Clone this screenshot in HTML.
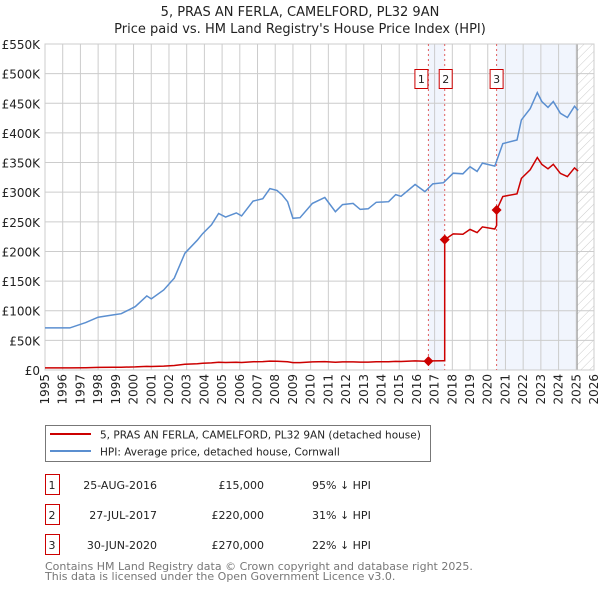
<!DOCTYPE html>
<html><head><meta charset="utf-8"><style>
body{margin:0;background:#fff;font-family:"DejaVu Sans","Liberation Sans",sans-serif}
svg{display:block}
</style></head><body>
<svg id="c" width="600" height="590" xmlns="http://www.w3.org/2000/svg" font-family="DejaVu Sans, Liberation Sans, sans-serif">
<defs><pattern id="hatch" width="6" height="6" patternUnits="userSpaceOnUse" patternTransform="rotate(45)"><line x1="0" y1="0" x2="0" y2="6" stroke="#ccc" stroke-width="1"/></pattern></defs>
<text x="300" y="16" text-anchor="middle" font-size="13" fill="#222">5, PRAS AN FERLA, CAMELFORD, PL32 9AN</text>
<text x="300" y="33" text-anchor="middle" font-size="13" fill="#222">Price paid vs. HM Land Registry's House Price Index (HPI)</text>
<g id="plot"></g>
<g>
<rect x="45.5" y="425.5" width="385" height="36" fill="#fff" stroke="#777"/>
<line x1="50" y1="434" x2="91" y2="434" stroke="#cc0000" stroke-width="2"/>
<text x="100" y="438.5" font-size="10.5" fill="#222">5, PRAS AN FERLA, CAMELFORD, PL32 9AN (detached house)</text>
<line x1="50" y1="451" x2="91" y2="451" stroke="#5b8fd0" stroke-width="2"/>
<text x="100" y="455.5" font-size="10.5" fill="#222">HPI: Average price, detached house, Cornwall</text>
</g>
<g id="tbl" font-size="11" fill="#222"></g>
<text x="45" y="570" font-size="11" fill="#777">Contains HM Land Registry data © Crown copyright and database right 2025.</text>
<text x="45" y="580" font-size="11" fill="#777">This data is licensed under the Open Government Licence v3.0.</text>
</svg>
<script>
const hpiYears=[1995,1996.4,1997.3,1998,1998.85,1999.3,2000.1,2000.75,2001,2001.7,2002.3,2002.9,2003.6,2003.9,2004.4,2004.8,2005.2,2005.8,2006.1,2006.75,2007.3,2007.7,2008.1,2008.4,2008.7,2009,2009.4,2010.1,2010.8,2011.4,2011.8,2012.4,2012.8,2013.25,2013.7,2014.4,2014.8,2015.1,2015.9,2016.45,2016.9,2017.5,2018.05,2018.6,2019,2019.4,2019.7,2020.4,2020.85,2021.65,2021.9,2022.4,2022.8,2023.05,2023.4,2023.7,2024.1,2024.5,2024.9,2025.1];
const hpiValues=[71,71,80,89,93,95,107,125,120,135,155,197,219,230,245,264,258,265,260,285,289,306,303,295,284,256,257,281,291,267,279,281,271,272,283,284,296,293,313,301,314,316,332,331,343,335,349,344,382,388,422,441,468,453,443,453,433,426,445,438];
const saleYears=[2016.65,2017.57,2020.5];
const salePrices=[15000,220000,270000];
const saleLabels=["1","2","3"];
const saleDates=["25-AUG-2016","27-JUL-2017","30-JUN-2020"];
const salePriceText=["£15,000","£220,000","£270,000"];
const saleDiffs=["95% ↓ HPI","31% ↓ HPI","22% ↓ HPI"];
const yTicks=[0,50,100,150,200,250,300,350,400,450,500,550];
const yTickLabels=["£0","£50K","£100K","£150K","£200K","£250K","£300K","£350K","£400K","£450K","£500K","£550K"];
const xTicks=[1995,1996,1997,1998,1999,2000,2001,2002,2003,2004,2005,2006,2007,2008,2009,2010,2011,2012,2013,2014,2015,2016,2017,2018,2019,2020,2021,2022,2023,2024,2025,2026];

const X0=45,X1=594,Y0=370,Y1=44;
const sx=y=>X0+(y-1995)/(2026-1995)*(X1-X0);
const sy=v=>Y0-v/550*(Y0-Y1);
const NS="http://www.w3.org/2000/svg";
const g=document.getElementById('plot');
function mk(t,a,p){const e=document.createElementNS(NS,t);for(const k in a)e.setAttribute(k,a[k]);(p||g).appendChild(e);return e;}
function hpiAt(y){for(let i=0;i<hpiYears.length-1;i++){if(y<=hpiYears[i+1]){const f=(y-hpiYears[i])/(hpiYears[i+1]-hpiYears[i]);return hpiValues[i]+f*(hpiValues[i+1]-hpiValues[i]);}}return hpiValues[hpiValues.length-1];}
let s1=mk('rect',{x:sx(saleYears[0]),y:Y1,width:sx(saleYears[1])-sx(saleYears[0]),height:Y0-Y1,fill:'#eef3fc',opacity:0.8});


let s2=mk('rect',{x:sx(saleYears[2]),y:Y1,width:sx(2025.05)-sx(saleYears[2]),height:Y0-Y1,fill:'#eef3fc',opacity:0.8});


let h=mk('rect',{x:sx(2025.05),y:Y1,width:X1-sx(2025.05),height:Y0-Y1,fill:'url(#hatch)'});


yTicks.forEach((v,i)=>{
  let l=mk('line',{x1:X0,x2:X1,y1:sy(v),y2:sy(v),stroke:'#ccc','stroke-width':1});
  
  
  let t=mk('text',{x:40,y:sy(v)+5,'text-anchor':'end','font-size':12,fill:'#222'});
  t.textContent=yTickLabels[i];
  
  
});
xTicks.forEach(y=>{
  let l=mk('line',{x1:sx(y),x2:sx(y),y1:Y1,y2:Y0,stroke:'#ccc','stroke-width':1});
  
  
  let t=mk('text',{x:0,y:0,'text-anchor':'end','font-size':12,fill:'#222',transform:`translate(${sx(y)+4},374) rotate(-90)`});
  t.textContent=y;
  
  
});
let vl=mk('line',{x1:sx(2025.05),x2:sx(2025.05),y1:Y1,y2:Y0,stroke:'#999','stroke-width':1});


let fr=mk('rect',{x:X0,y:Y1,width:X1-X0,height:Y0-Y1,fill:'none',stroke:'#ccc'});


saleYears.forEach((y,i)=>{
  let l=mk('line',{x1:sx(y),x2:sx(y),y1:Y1,y2:Y0,stroke:'#e06060','stroke-width':1,'stroke-dasharray':'2,3'});
  
  
  const bx=i===0?sx(y)-14:(i===1?sx(y)-6:sx(y)-7);
  let r=mk('rect',{x:bx+0.5,y:69.5,width:13,height:19,fill:'#fff',stroke:'#cc0000'});
  
  
  let t=mk('text',{x:bx+7,y:83,'text-anchor':'middle','font-size':11,fill:'#222'});
  t.textContent=saleLabels[i];
  
  
});
let hp=hpiYears.map((y,i)=>`${sx(y).toFixed(1)},${sy(hpiValues[i]).toFixed(1)}`).join(' ');
let hl=mk('polyline',{points:hp,fill:'none',stroke:'#5b8fd0','stroke-width':1.5});


const pts=[];
function seg(a,b,fac){pts.push([a,hpiAt(a)*fac]);hpiYears.forEach((y,i)=>{if(y>a&&y<b)pts.push([y,hpiValues[i]*fac]);});pts.push([b,hpiAt(b)*fac]);}
const f=saleYears.map((y,i)=>salePrices[i]/1000/hpiAt(y));
seg(1995,saleYears[1],f[0]);
seg(saleYears[1],saleYears[2],f[1]);
seg(saleYears[2],2025.1,f[2]);
let rl=mk('polyline',{points:pts.map(p=>`${sx(p[0]).toFixed(1)},${sy(p[1]).toFixed(1)}`).join(' '),fill:'none',stroke:'#cc0000','stroke-width':1.5});


saleYears.forEach((y,i)=>{
  const cx=sx(y),cy=sy(salePrices[i]/1000);
  let d=mk('polygon',{points:`${cx},${cy-5} ${cx+5},${cy} ${cx},${cy+5} ${cx-5},${cy}`,fill:'#cc0000'});
  
  
});
const tb=document.getElementById('tbl');
saleLabels.forEach((s,i)=>{
  const y=483+i*30;
  let r=mk('rect',{x:45.5,y:y-8.5,width:14,height:20,fill:'#fff',stroke:'#cc0000'},tb);
  
  
  const cells=[[52,'middle',s],[157,'end',saleDates[i]],[264,'end',salePriceText[i]],[312,'start',saleDiffs[i]]];
  cells.forEach(c=>{let t=mk('text',{x:c[0],y:y+6,'text-anchor':c[1]},tb);t.textContent=c[2];
    
    });
});
</script>
</body></html>
